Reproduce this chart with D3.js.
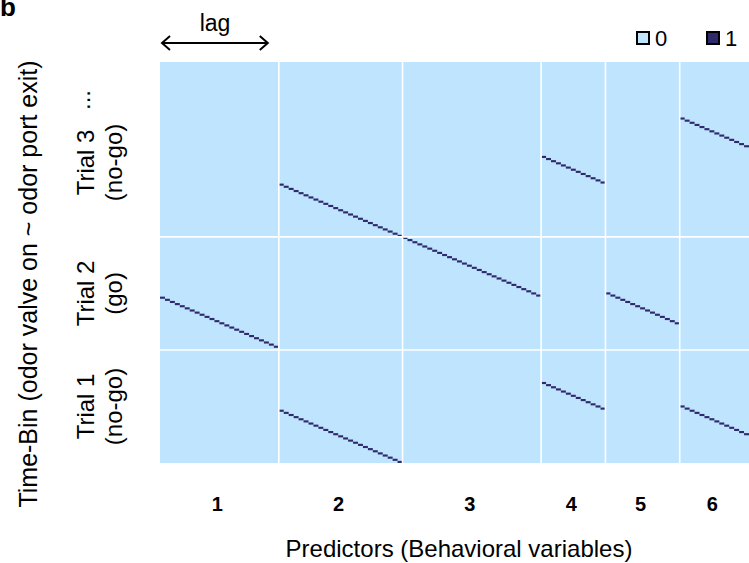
<!DOCTYPE html>
<html>
<head>
<meta charset="utf-8">
<script src="https://cdn.jsdelivr.net/npm/d3@7"></script>
<style>
  body { margin: 0; background: #fff; }
  text { font-family: "Liberation Sans", Arial, sans-serif; fill: #000; }
</style>
</head>
<body>
<script>
// design matrix: predictors (columns = lags) x time bins (rows, counted from top)
const predictors = ['1', '2', '3', '4', '5', '6'];
const lagCols = [24, 25, 28, 13, 15, 14];
const trials = ['Trial 1', 'Trial 2', 'Trial 3'];
const trialTypes = ['(no-go)', '(go)', '(no-go)'];
const trialBins = [53, 53, 82]; // trial 3 keeps going past the top
// first row (from top) of each lagged event, per predictor
const onsetRows = [[110], [57, 163], [82], [44, 150], [108], [26, 161]];
const legendValues = [0, 1];

const colorOff = '#bfe4fe';
const colorOn = '#2e2a6c';

const width = 749, height = 563;
const totalCols = d3.sum(lagCols);
const totalRows = d3.sum(trialBins);

const svg = d3.select('body')
    .append('svg')
    .attr('width', width)
    .attr('height', height);

const x = d3.scaleLinear().domain([0, totalCols]).range([160, 749]);
const y = d3.scaleLinear().domain([0, totalRows]).range([62, 463]);

// column start of each predictor
const colStart = lagCols.map((n, i) => d3.sum(lagCols.slice(0, i)));

// trial blocks from the bottom up
const trialStart = [];
let acc = totalRows;
trialBins.forEach(n => { acc -= n; trialStart.push(acc); });

const plot = svg.append('g');

plot.append('rect')
    .attr('x', x(0))
    .attr('y', y(0))
    .attr('width', x(totalCols) - x(0))
    .attr('height', y(totalRows) - y(0))
    .attr('fill', colorOff);

// ones of the matrix
const cells = [];
onsetRows.forEach((rows, p) => {
    rows.forEach(r0 => {
        for (let k = 0; k < lagCols[p]; k++) {
            cells.push({ col: colStart[p] + k, row: r0 + k });
        }
    });
});

plot.selectAll('rect.cell')
    .data(cells)
    .enter()
    .append('rect')
    .attr('class', 'cell')
    .attr('x', d => x(d.col))
    .attr('y', d => y(d.row))
    .attr('width', x(1) - x(0))
    .attr('height', y(1) - y(0))
    .attr('fill', colorOn);

// white separators
plot.selectAll('line.vsep')
    .data(colStart.slice(1))
    .enter()
    .append('line')
    .attr('x1', d => x(d)).attr('x2', d => x(d))
    .attr('y1', y(0)).attr('y2', y(totalRows))
    .attr('stroke', '#fff')
    .attr('stroke-width', 1.6);

plot.selectAll('line.hsep')
    .data(trialStart.slice(0, -1))
    .enter()
    .append('line')
    .attr('x1', x(0)).attr('x2', x(totalCols))
    .attr('y1', d => y(d)).attr('y2', d => y(d))
    .attr('stroke', '#fff')
    .attr('stroke-width', 1.6);

// predictor labels
svg.selectAll('text.pred')
    .data(predictors)
    .enter()
    .append('text')
    .attr('x', (d, i) => x(colStart[i] + lagCols[i] / 2) - 2)
    .attr('y', 511)
    .attr('text-anchor', 'middle')
    .attr('font-size', 20)
    .attr('font-weight', 'bold')
    .text(d => d);

svg.append('text')
    .attr('x', 459)
    .attr('y', 557)
    .attr('text-anchor', 'middle')
    .attr('font-size', 24)
    .text('Predictors (Behavioral variables)');

svg.append('text')
    .attr('transform', 'translate(37,284) rotate(-90)')
    .attr('text-anchor', 'middle')
    .attr('font-size', 25)
    .text('Time-Bin (odor valve on ~ odor port exit)');

// trial labels
const trialG = svg.selectAll('g.trial')
    .data(trials)
    .enter()
    .append('g')
    .attr('class', 'trial')
    .attr('transform', (d, i) => {
        let cy = y(trialStart[i] + trialBins[i] / 2);
        if (i === 2) cy += 13;
        return `translate(0,${cy})`;
    });

trialG.append('text')
    .attr('transform', 'translate(94,0) rotate(-90)')
    .attr('text-anchor', 'middle')
    .attr('font-size', 24)
    .text(d => d);

trialG.append('text')
    .attr('transform', 'translate(122,0) rotate(-90)')
    .attr('text-anchor', 'middle')
    .attr('font-size', 24)
    .text((d, i) => trialTypes[i]);

svg.append('text')
    .attr('transform', `translate(90,${y(trialStart[2]) + 38}) rotate(-90)`)
    .attr('text-anchor', 'middle')
    .attr('font-size', 24)
    .text('...');

// lag arrow
svg.append('text')
    .attr('x', 215)
    .attr('y', 31)
    .attr('text-anchor', 'middle')
    .attr('font-size', 23)
    .text('lag');

const arrow = svg.append('g')
    .attr('stroke', '#000')
    .attr('stroke-width', 2)
    .attr('fill', 'none');
arrow.append('line').attr('x1', x(0) + 2).attr('x2', x(colStart[1]) - 11).attr('y1', 43).attr('y2', 43);
arrow.append('path').attr('d', `M${x(0) + 10},36 L${x(0) + 2},43 L${x(0) + 10},50`);
arrow.append('path').attr('d', `M${x(colStart[1]) - 19},36 L${x(colStart[1]) - 11},43 L${x(colStart[1]) - 19},50`);

// legend
const legend = svg.selectAll('g.legend')
    .data(legendValues)
    .enter()
    .append('g')
    .attr('class', 'legend')
    .attr('transform', (d, i) => `translate(${637 + i * 70},32)`);

legend.append('rect')
    .attr('width', 12)
    .attr('height', 12)
    .attr('fill', d => d ? colorOn : colorOff)
    .attr('stroke', '#000')
    .attr('stroke-width', 2);

legend.append('text')
    .attr('x', 18)
    .attr('y', 14)
    .attr('font-size', 22)
    .text(d => d);

svg.append('text')
    .attr('x', 0)
    .attr('y', 16)
    .attr('font-size', 26)
    .attr('font-weight', 'bold')
    .text('b');
</script>
</body>
</html>
